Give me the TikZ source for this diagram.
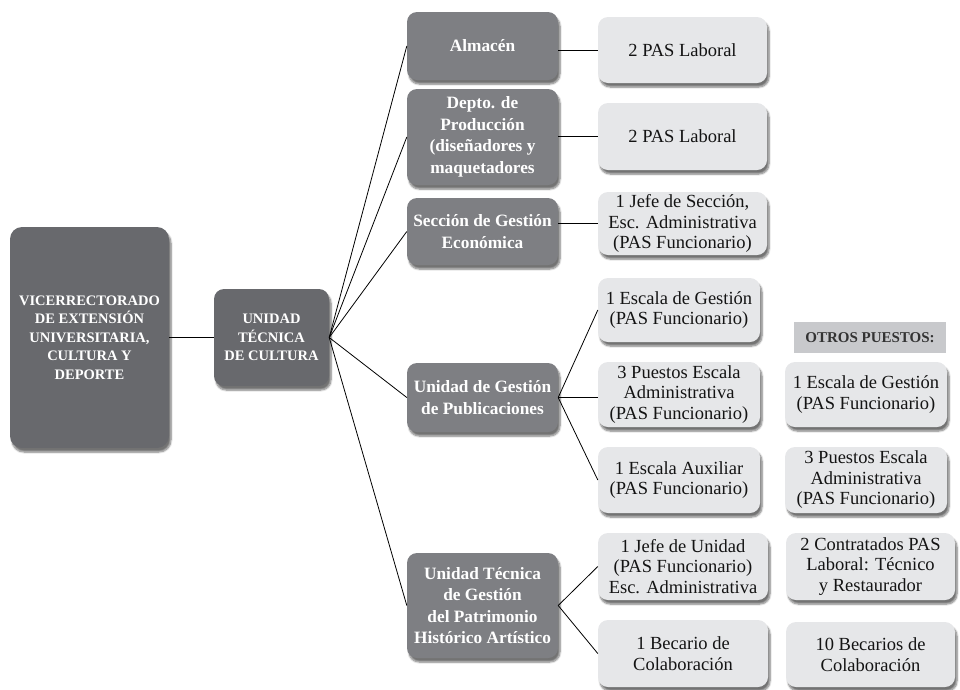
\documentclass[tikz,border=0pt]{standalone}
\usepackage{fontspec}
\setmainfont{Liberation Serif}
\usepackage{xcolor}
\usepackage{tikz}
\usetikzlibrary{positioning,calc,shadows.blur}
\definecolor{vcdark}{RGB}{104,105,109}
\definecolor{vcmid}{RGB}{126,127,131}
\definecolor{vclight}{RGB}{230,231,233}
\definecolor{vcnote}{RGB}{200,201,204}
\tikzset{
  boxshadow/.style={blur shadow={shadow xshift=2pt, shadow yshift=-4pt, shadow blur steps=7, shadow opacity=55}},
  headbox/.style={boxshadow, fill=vcdark, rounded corners=12pt, text=white, font=\fontsize{14.5}{18.5}\selectfont\bfseries, align=center, inner sep=2pt},
  unitbox/.style={boxshadow, fill=vcmid, rounded corners=10pt, text=white, font=\fontsize{17.3}{21.5}\selectfont\bfseries, align=center, minimum width=151pt, inner sep=2pt},
  postbox/.style={boxshadow, fill=vclight, rounded corners=10pt, text=black!92, font=\fontsize{18.5}{20.5}\selectfont, align=center, inner sep=1pt},
  notebox/.style={fill=vcnote, text=black!80, font=\fontsize{15}{16}\selectfont\bfseries, minimum width=152pt, minimum height=31pt, inner sep=2pt},
  link/.style={black, line width=0.8pt},
}

\begin{document}
\begin{tikzpicture}[x=1pt,y=-1pt]
  \useasboundingbox (0,0) rectangle (960,689);
  % head of the chart
  \node[headbox, minimum width=159pt, minimum height=221pt] (vr) at (89.5,337.5) {VICERRECTORADO\\DE EXTENSIÓN\\UNIVERSITARIA,\\CULTURA Y\\DEPORTE};
  \node[headbox, rounded corners=10pt, font=\fontsize{14.5}{18.5}\selectfont\bfseries, minimum width=115pt, minimum height=97pt] (utc) at (271.5,337.5) {UNIDAD\\TÉCNICA\\DE CULTURA};
  % units
  \node[unitbox, minimum height=68pt] (alm) at (482.5,46) {Almacén};
  \node[unitbox, minimum height=96pt] (dep) at (482.5,137) {Depto. de\\Producción\\(diseñadores y\\maquetadores};
  \node[unitbox, minimum height=67pt] (sge) at (482.5,231.5) {Sección de Gestión\\Económica};
  \node[unitbox, minimum height=69pt] (ugp) at (482.5,397.5) {Unidad de Gestión\\de Publicaciones};
  \node[unitbox, minimum height=105pt] (utp) at (482.5,605.5) {Unidad Técnica\\de Gestión\\del Patrimonio\\Histórico Artístico};
  % posts
  \node[postbox, minimum width=169pt, minimum height=66pt] (pas1) at (682.5,50) {2 PAS Laboral};
  \node[postbox, minimum width=169pt, minimum height=67pt] (pas2) at (682.5,136.5) {2 PAS Laboral};
  \node[postbox, minimum width=169pt, minimum height=63pt] (jsec) at (682.5,223.5) {1 Jefe de Sección,\\Esc. Administrativa\\(PAS Funcionario)};
  \node[postbox, minimum width=162pt, minimum height=64pt] (eg1) at (679,310) {1 Escala de Gestión\\(PAS Funcionario)};
  \node[postbox, minimum width=162pt, minimum height=65pt] (pe1) at (679,394.5) {3 Puestos Escala\\Administrativa\\(PAS Funcionario)};
  \node[postbox, minimum width=162pt, minimum height=66pt] (ea1) at (679,480) {1 Escala Auxiliar\\(PAS Funcionario)};
  \node[postbox, minimum width=170pt, minimum height=67pt] (jun) at (683,566.5) {1 Jefe de Unidad\\(PAS Funcionario)\\Esc. Administrativa};
  \node[postbox, minimum width=170pt, minimum height=67pt] (bec1) at (683,653.5) {1 Becario de\\Colaboración};
  % other posts
  \node[notebox] (otros) at (870,337.5) {OTROS PUESTOS:};
  \node[postbox, minimum width=162pt, minimum height=65pt] (eg2) at (866,394.5) {1 Escala de Gestión\\(PAS Funcionario)};
  \node[postbox, minimum width=162pt, minimum height=66pt] (pe2) at (866,480) {3 Puestos Escala\\Administrativa\\(PAS Funcionario)};
  \node[postbox, minimum width=169pt, minimum height=67pt] (con) at (870.5,566.5) {2 Contratados PAS\\Laboral: Técnico\\y Restaurador};
  \node[postbox, minimum width=169pt, minimum height=65pt] (bec2) at (870.5,654.5) {10 Becarios de\\Colaboración};
  % connectors
  \draw[link] (vr.east) -- (utc.west);
  \foreach \u in {alm,dep,sge,ugp,utp}
    \draw[link] (utc.east) -- (\u.west);
  \draw[link] (alm.east |- pas1.west) -- (pas1.west);
  \draw[link] (dep.east |- pas2.west) -- (pas2.west);
  \draw[link] (sge.east |- jsec.west) -- (jsec.west);
  \draw[link] (ugp.east) -- (eg1.west);
  \draw[link] (ugp.east) -- (ugp.east -| pe1.west);
  \draw[link] (ugp.east) -- (ea1.west);
  \draw[link] (utp.east) -- (jun.west);
  \draw[link] (utp.east) -- (bec1.west);
\end{tikzpicture}
\end{document}
